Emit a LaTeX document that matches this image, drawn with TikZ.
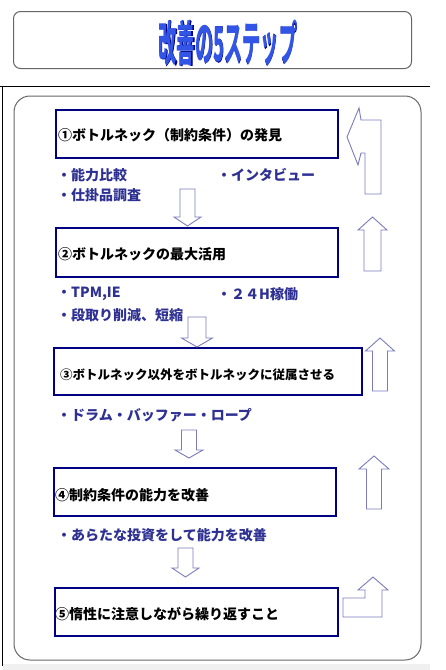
\documentclass[tikz,border=0pt]{standalone}
\usepackage{fontspec}
\usepackage{graphicx}
\newfontfamily\jp{Noto Sans CJK JP}
\newfontfamily\jpfat{Noto Sans CJK JP}[FakeBold=4]
\definecolor{navybox}{HTML}{000080}
\definecolor{arrowc}{HTML}{7B7BBE}
\definecolor{bulletc}{HTML}{2E3192}
\definecolor{titleblue}{HTML}{3355E6}
\definecolor{framegray}{HTML}{666666}
\newcommand\dnblock[6]{%
  \draw[blockarrow] (#1-#2,#4) -- (#1+#2,#4) -- (#1+#2,#5) -- (#1+#3,#5) -- (#1,#6) -- (#1-#3,#5) -- (#1-#2,#5) -- cycle;}
\newcommand\upblock[6]{%
  \draw[blockarrow] (#1-#2,#6) -- (#1+#2,#6) -- (#1+#2,#5) -- (#1+#3,#5) -- (#1,#4) -- (#1-#3,#5) -- (#1-#2,#5) -- cycle;}
\begin{document}
\begin{tikzpicture}[x=1pt,y=-1pt,
  stepbox/.style={draw=navybox, line width=2pt, inner sep=0pt},
  steptext/.style={anchor=west, inner sep=0pt, font=\jp\bfseries\fontsize{14}{16}\selectfont, text=black},
  bullet/.style={anchor=west, inner sep=0pt, font=\jp\bfseries\fontsize{14}{16}\selectfont, text=bulletc},
  blockarrow/.style={draw=arrowc, line width=0.9pt, fill=white, line join=miter}]
\useasboundingbox (0,0) rectangle (445,670);
\fill[white] (0,0) rectangle (445,670);
\fill[gray!12] (3,664) rectangle (430,670);
\draw[black, line width=1pt] (0,86) -- (430,86);
\draw[black, line width=1pt] (2,86) -- (2,666);
\draw[framegray, line width=1pt, rounded corners=16pt] (14,96) rectangle (421,660);
% title
\node[draw=framegray, line width=1pt, rounded corners=7pt, minimum width=398pt, minimum height=57pt, inner sep=0pt] (titlebox) at (212.5,40) {};
\node[inner sep=0pt] (titleback) at (228,43) {\scalebox{0.38}[1]{\jpfat\fontsize{48}{50}\selectfont\color{navybox}改善の5ステップ}};
\node[inner sep=0pt] (title) at (228,43) {\scalebox{0.38}[1]{\jp\bfseries\fontsize{48}{50}\selectfont\color{titleblue}改善の5ステップ}};
% step boxes
\node[stepbox, minimum width=282pt, minimum height=48pt] (s1) at (197,134) {};
\node[stepbox, minimum width=282pt, minimum height=49pt] (s2) at (197,252.5) {};
\node[stepbox, minimum width=308pt, minimum height=47pt] (s3) at (208,371.5) {};
\node[stepbox, minimum width=282pt, minimum height=48pt] (s4) at (195,492) {};
\node[stepbox, minimum width=283pt, minimum height=48pt] (s5) at (196.5,612) {};
\node[steptext] (t1) at (58,135) {①ボトルネック（制約条件）の発見};
\node[steptext] (t2) at (58,254) {②ボトルネックの最大活用};
\node[steptext, font=\jp\bfseries\fontsize{12.5}{14}\selectfont] (t3) at (60,375) {③ボトルネック以外をボトルネックに従属させる};
\node[steptext] (t4) at (55,495) {④制約条件の能力を改善};
\node[steptext] (t5) at (55,614) {⑤惰性に注意しながら繰り返すこと};
% bullets
\node[bullet] (b1) at (57,175) {・能力比較};
\node[bullet] (b2) at (217,175) {・インタビュー};
\node[bullet] (b3) at (57,195) {・仕掛品調査};
\node[bullet] (b4) at (57,294) {・TPM,IE};
\node[bullet] (b5) at (217,294) {・２４H稼働};
\node[bullet] (b6) at (57,315) {・段取り削減、短縮};
\node[bullet] (b7) at (57,415) {・ドラム・バッファー・ロープ};
\node[bullet] (b8) at (57,535) {・あらたな投資をして能力を改善};
% down arrows
\dnblock{187.5}{7.5}{13.5}{189}{217}{226}
\dnblock{197}{9}{15.5}{317}{338}{347}
\dnblock{189}{7.5}{14}{430}{450}{458}
\dnblock{185.5}{7.5}{13.5}{548}{568}{577}
% up arrows
\upblock{372.5}{8.5}{14.5}{217}{230}{271}
\upblock{380}{7.5}{14.5}{338}{351}{391}
\upblock{374}{7.5}{15}{456}{469}{509}
\draw[blockarrow] (343,598) -- (365,598) -- (365,590) -- (358,590) -- (373,577) -- (388,590) -- (382,590) -- (382,617) -- (343,617) -- cycle;
\draw[blockarrow] (381,120) -- (361,120) -- (359,108) -- (347,137) -- (358,165) -- (361,153) -- (365,153) -- (365,194) -- (381,194) -- cycle;
\end{tikzpicture}
\end{document}
